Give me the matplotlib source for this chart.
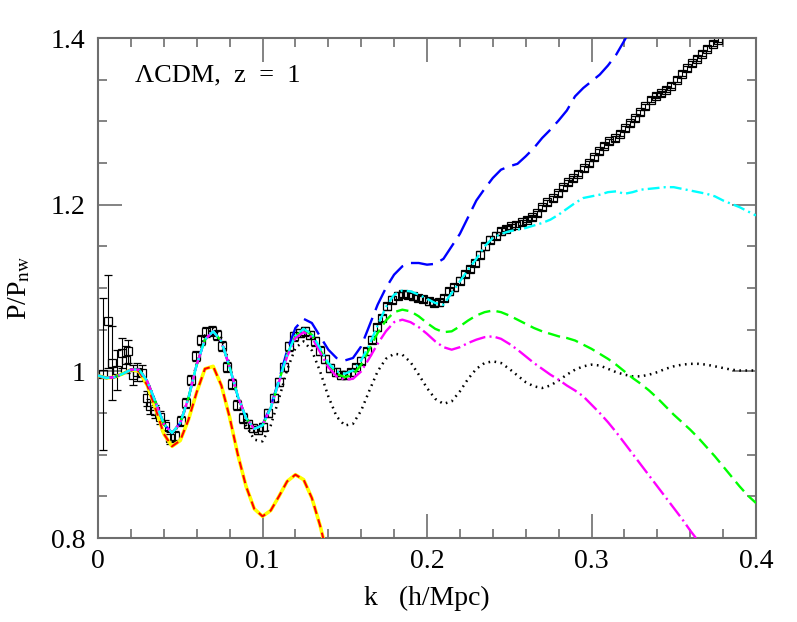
import matplotlib
matplotlib.use('Agg')
import matplotlib.pyplot as plt
from matplotlib.ticker import MultipleLocator, FixedLocator, FixedFormatter

plt.rcParams['font.family'] = ['Liberation Serif', 'DejaVu Serif']
plt.rcParams['mathtext.fontset'] = 'stix'
plt.rcParams['lines.scale_dashes'] = False

# ---------------- simulation points (squares with error bars) ----------------
sim_k = [
    0.0031, 0.0060, 0.0085, 0.0114, 0.0146, 0.0170, 0.0182, 0.0210, 0.0240, 0.0265,
    0.0296, 0.0316, 0.0345, 0.0377, 0.0408, 0.0440, 0.0471, 0.0502, 0.0534, 0.0565,
    0.0597, 0.0628, 0.0659, 0.0691, 0.0722, 0.0754, 0.0785, 0.0816, 0.0848, 0.0879,
    0.0911, 0.0942, 0.0973, 0.1005, 0.1036, 0.1068, 0.1099, 0.1130, 0.1162, 0.1193,
    0.1225, 0.1256, 0.1287, 0.1319, 0.1350, 0.1382, 0.1413, 0.1444, 0.1476, 0.1507,
    0.1539, 0.1570, 0.1601, 0.1633, 0.1664, 0.1696, 0.1727, 0.1758, 0.1790, 0.1821,
    0.1853, 0.1884, 0.1915, 0.1947, 0.1978, 0.2010, 0.2041, 0.2072, 0.2104, 0.2135,
    0.2167, 0.2198, 0.2229, 0.2261, 0.2292, 0.2324, 0.2355, 0.2386, 0.2418, 0.2449,
    0.2481, 0.2512, 0.2543, 0.2575, 0.2606, 0.2638, 0.2669, 0.2700, 0.2732, 0.2763,
    0.2795, 0.2826, 0.2857, 0.2889, 0.2920, 0.2952, 0.2983, 0.3014, 0.3046, 0.3077,
    0.3109, 0.3140, 0.3171, 0.3203, 0.3234, 0.3266, 0.3297, 0.3328, 0.3360, 0.3391,
    0.3423, 0.3454, 0.3485, 0.3517, 0.3548, 0.3580, 0.3611, 0.3642, 0.3674, 0.3705,
    0.3737, 0.3768]
sim_y = [
    0.997, 1.060, 1.010, 1.002, 1.022, 1.014, 1.024, 0.996, 0.999, 0.998,
    0.968, 0.958, 0.952, 0.945, 0.935, 0.920, 0.922, 0.940, 0.962, 0.990,
    1.018, 1.038, 1.047, 1.048, 1.044, 1.030, 1.005, 0.985, 0.960, 0.944,
    0.937, 0.932, 0.930, 0.933, 0.950, 0.968, 0.987, 1.005, 1.030, 1.042,
    1.046, 1.048, 1.044, 1.036, 1.025, 1.015, 1.004, 0.999, 0.996, 0.996,
    0.999, 1.005, 1.013, 1.024, 1.038, 1.053, 1.064, 1.078, 1.086, 1.091,
    1.093, 1.092, 1.090, 1.088, 1.087, 1.084, 1.082, 1.083, 1.088, 1.096,
    1.101, 1.109, 1.117, 1.123, 1.130, 1.140, 1.150, 1.158, 1.163, 1.168,
    1.171, 1.174, 1.176, 1.179, 1.182, 1.185, 1.190, 1.197, 1.203, 1.208,
    1.214, 1.221, 1.227, 1.232, 1.237, 1.244, 1.250, 1.257, 1.264, 1.271,
    1.276, 1.280, 1.285, 1.292, 1.298, 1.304, 1.311, 1.318, 1.326, 1.331,
    1.334, 1.338, 1.343, 1.350, 1.357, 1.364, 1.370, 1.375, 1.381, 1.387,
    1.393, 1.398]
sim_err = [
    0.091, 0.056, 0.044, 0.024, 0.018, 0.016, 0.014, 0.012, 0.011, 0.010,
    0.009, 0.009, 0.008, 0.008, 0.007, 0.007, 0.006, 0.006, 0.006, 0.006,
    0.006, 0.006, 0.006, 0.006, 0.006, 0.006, 0.006, 0.006, 0.006, 0.006,
    0.005, 0.005, 0.005, 0.005, 0.005, 0.005, 0.005, 0.005, 0.005, 0.005,
    0.005, 0.005, 0.005, 0.005, 0.005, 0.005, 0.005, 0.005, 0.005, 0.005,
    0.004, 0.004, 0.004, 0.004, 0.004, 0.004, 0.004, 0.004, 0.004, 0.004,
    0.004, 0.004, 0.004, 0.004, 0.004, 0.004, 0.004, 0.004, 0.004, 0.004,
    0.004, 0.004, 0.004, 0.004, 0.004, 0.004, 0.004, 0.004, 0.004, 0.004,
    0.003, 0.003, 0.003, 0.003, 0.003, 0.003, 0.003, 0.003, 0.003, 0.003,
    0.003, 0.003, 0.003, 0.003, 0.003, 0.003, 0.003, 0.003, 0.003, 0.003,
    0.003, 0.003, 0.003, 0.003, 0.003, 0.003, 0.003, 0.003, 0.003, 0.003,
    0.003, 0.003, 0.003, 0.003, 0.003, 0.003, 0.003, 0.003, 0.003, 0.003,
    0.003, 0.003]

# ---------------- model curves ----------------
curve_k = [
    0.000, 0.005, 0.010, 0.015, 0.020, 0.025, 0.030, 0.035, 0.040, 0.045,
    0.050, 0.055, 0.060, 0.065, 0.070, 0.075, 0.080, 0.085, 0.090, 0.095,
    0.100, 0.105, 0.110, 0.115, 0.120, 0.125, 0.130, 0.135, 0.140, 0.145,
    0.150, 0.155, 0.160, 0.165, 0.170, 0.175, 0.180, 0.185, 0.190, 0.195,
    0.200, 0.205, 0.210, 0.215, 0.220, 0.225, 0.230, 0.235, 0.240, 0.245,
    0.250, 0.255, 0.260, 0.265, 0.270, 0.275, 0.280, 0.285, 0.290, 0.295,
    0.300, 0.305, 0.310, 0.315, 0.320, 0.325, 0.330, 0.335, 0.340, 0.345,
    0.350, 0.355, 0.360, 0.365, 0.370, 0.375, 0.380, 0.385, 0.390, 0.395,
    0.400]

low_k_common = [
    0.995, 0.992, 0.993, 0.997, 1.002, 1.002, 0.988, 0.963, 0.937, 0.926,
    0.938, 0.968, 1.008, 1.038, 1.048, 1.036, 1.005, 0.970, 0.944, 0.931]

cyan_y = low_k_common + [
    0.935, 0.956, 0.988, 1.020, 1.043, 1.051, 1.045, 1.028, 1.010, 1.000,
    0.997, 1.001, 1.013, 1.032, 1.055, 1.077, 1.092, 1.097, 1.096, 1.092,
    1.087, 1.082, 1.080, 1.094, 1.108, 1.122, 1.135, 1.150, 1.160, 1.165,
    1.168, 1.170, 1.172, 1.175, 1.178, 1.182, 1.188, 1.195, 1.202, 1.208,
    1.210, 1.212, 1.215, 1.216, 1.213, 1.215, 1.218, 1.219, 1.220, 1.221,
    1.221, 1.219, 1.217, 1.215, 1.213, 1.210, 1.205, 1.201, 1.197, 1.192,
    1.187]

magenta_y = low_k_common + [
    0.935, 0.956, 0.987, 1.018, 1.040, 1.047, 1.041, 1.023, 1.005, 0.994,
    0.990, 0.991, 1.000, 1.016, 1.033, 1.048, 1.059, 1.062, 1.059, 1.053,
    1.045, 1.036, 1.029, 1.026, 1.029, 1.034, 1.038, 1.041, 1.042, 1.039,
    1.033, 1.026, 1.018, 1.010, 1.003, 0.996, 0.990, 0.983, 0.977, 0.970,
    0.960, 0.950, 0.939, 0.927, 0.914, 0.901, 0.888, 0.875, 0.862, 0.849,
    0.836, 0.823, 0.809, 0.796]

green_y = low_k_common + [
    0.935, 0.956, 0.988, 1.020, 1.042, 1.050, 1.044, 1.026, 1.008, 0.997,
    0.993, 0.996, 1.008, 1.027, 1.046, 1.061, 1.071, 1.074, 1.072, 1.066,
    1.058, 1.051, 1.047, 1.048, 1.054, 1.061, 1.067, 1.071, 1.073, 1.071,
    1.067, 1.062, 1.057, 1.052, 1.048, 1.045, 1.042, 1.040, 1.037, 1.032,
    1.027, 1.021, 1.015, 1.008, 1.000, 0.992, 0.985, 0.977, 0.968, 0.958,
    0.948, 0.939, 0.930, 0.920, 0.909, 0.898, 0.886, 0.874, 0.862, 0.851,
    0.842]

blue_y = low_k_common + [
    0.936, 0.958, 0.990, 1.025, 1.052, 1.063, 1.058, 1.042, 1.026, 1.016,
    1.013, 1.016, 1.030, 1.055, 1.080, 1.100, 1.116, 1.126, 1.130, 1.130,
    1.128, 1.129, 1.135, 1.150, 1.165, 1.185, 1.205, 1.219, 1.232, 1.242,
    1.246, 1.249, 1.258, 1.268, 1.280, 1.290, 1.301, 1.313, 1.330, 1.340,
    1.348, 1.356, 1.367, 1.380, 1.397, 1.415]

dotted_y = [
    0.995, 0.992, 0.993, 0.997, 1.002, 1.002, 0.988, 0.963, 0.937, 0.925,
    0.937, 0.968, 1.010, 1.043, 1.053, 1.040, 1.008, 0.968, 0.935, 0.918,
    0.916, 0.935, 0.967, 1.002, 1.028, 1.036, 1.025, 1.000, 0.970, 0.946,
    0.935, 0.937, 0.953, 0.977, 1.000, 1.015, 1.021, 1.020, 1.011, 0.996,
    0.980, 0.967, 0.961, 0.964, 0.976, 0.991, 1.003, 1.010, 1.012, 1.010,
    1.003, 0.995, 0.987, 0.982, 0.980, 0.983, 0.989, 0.996, 1.002, 1.006,
    1.008, 1.007, 1.003, 0.999, 0.996, 0.994, 0.994, 0.996, 0.999, 1.003,
    1.006, 1.008, 1.009, 1.009, 1.008, 1.006, 1.004, 1.002, 1.001, 1.001,
    1.001]

linear_y = [
    0.995, 0.992, 0.993, 0.997, 1.002, 1.000, 0.983, 0.955, 0.925, 0.910,
    0.917, 0.942, 0.975, 1.003, 1.006, 0.983, 0.945, 0.900, 0.862, 0.835,
    0.826, 0.833, 0.850, 0.868, 0.876, 0.870, 0.848, 0.815, 0.775]

x_ticks = [0.0, 0.1, 0.2, 0.3, 0.4]
x_ticklabels = ['0', '0.1', '0.2', '0.3', '0.4']
y_ticks = [0.8, 1.0, 1.2, 1.4]
y_ticklabels = ['0.8', '1', '1.2', '1.4']

# ---------------- figure ----------------
W, H = 797, 622
fig = plt.figure(figsize=(W / 100, H / 100), dpi=100)
ax = fig.add_axes([98 / W, 84 / H, 658 / W, 500 / H])

ax.errorbar(sim_k, sim_y, yerr=sim_err, fmt='s', mfc='none', mec='black',
            mew=0.9, ms=6.3, ecolor='black', elinewidth=0.8, capsize=3,
            capthick=0.8, zorder=2)

def ck(vals):
    return curve_k[:len(vals)]

ax.plot(ck(dotted_y), dotted_y, color='black', lw=1.8, dashes=(1.2, 3.2),
        zorder=3)
ax.plot(ck(linear_y), linear_y, color='#ffff00', lw=2.6, zorder=3)
ax.plot(ck(linear_y), linear_y, color='#ff0000', lw=1.5, dashes=(6, 4),
        zorder=4)
ax.plot(ck(blue_y), blue_y, color='#0000ff', lw=1.7, dashes=(16, 6), zorder=5)
ax.plot(ck(green_y), green_y, color='#00ff00', lw=1.7, dashes=(9, 4.5), zorder=6)
ax.plot(ck(magenta_y), magenta_y, color='#ff00ff', lw=1.7,
        dashes=(12, 3, 1.5, 3), zorder=7)
ax.plot(ck(cyan_y), cyan_y, color='#00ffff', lw=1.7,
        dashes=(8.5, 3, 1.5, 3), zorder=8)

ax.set_xlim(0, 0.4)
ax.set_ylim(0.8, 1.4)

ax.xaxis.set_major_locator(FixedLocator(x_ticks))
ax.xaxis.set_major_formatter(FixedFormatter(x_ticklabels))
ax.xaxis.set_minor_locator(MultipleLocator(0.02))
ax.yaxis.set_major_locator(FixedLocator(y_ticks))
ax.yaxis.set_major_formatter(FixedFormatter(y_ticklabels))
ax.yaxis.set_minor_locator(MultipleLocator(0.05))

tick_col = '#6e6e6e'
ax.tick_params(which='both', direction='in', top=True, right=True,
               color=tick_col, width=1.2, labelsize=20)
ax.tick_params(which='major', length=17)
ax.tick_params(which='minor', length=6.5)
ax.tick_params(axis='x', pad=8)
ax.tick_params(axis='y', pad=9)
for s in ax.spines.values():
    s.set_color(tick_col)
    s.set_linewidth(1.5)

ax.text(0.056, 0.926, '\u039bCDM,  z  =  1', transform=ax.transAxes,
        ha='left', va='center', fontsize=19)

fig.text(427 / W, 1 - 598 / H, 'k   (h/Mpc)', ha='center', va='center',
         fontsize=20)
fig.text(20 / W, 1 - 288 / H, r'P/P$_{\rm nw}$', rotation=90, ha='center',
         va='center', fontsize=20)

fig.savefig('out.png', dpi=100)
